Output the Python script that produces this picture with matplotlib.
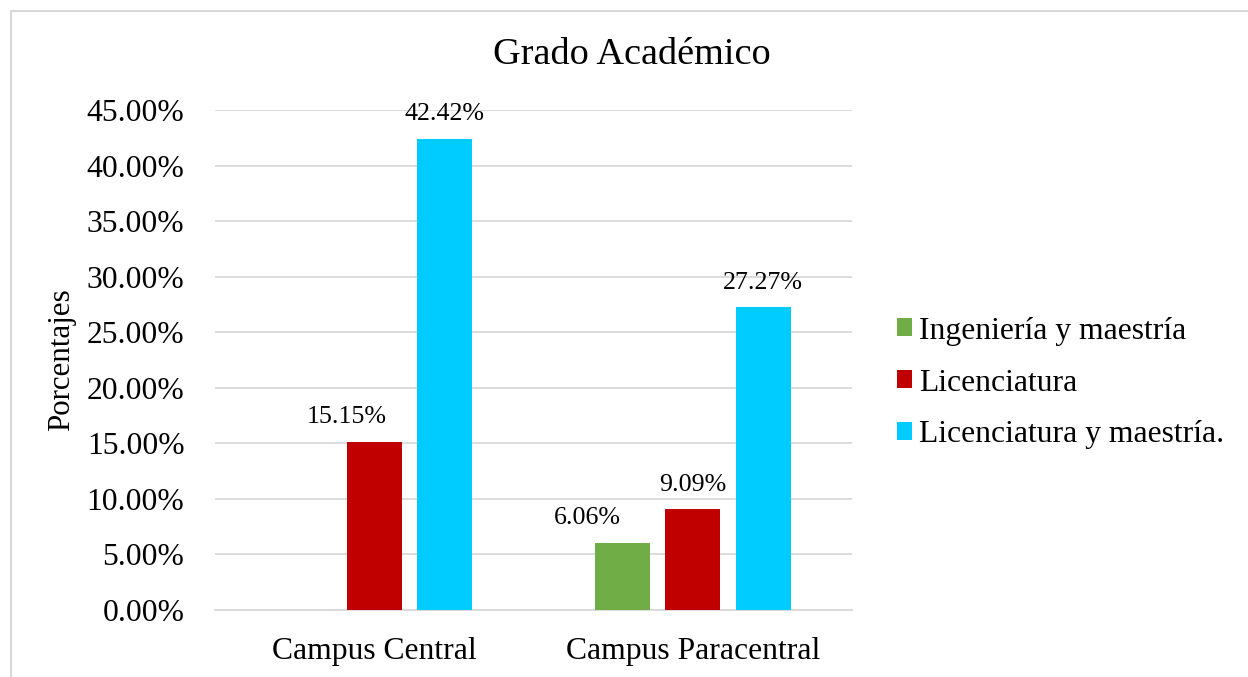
import matplotlib.pyplot as plt
import numpy as np
from matplotlib.patches import Rectangle

plt.rcParams['font.family'] = ['Liberation Serif', 'DejaVu Serif']

campus = ['Campus Central', 'Campus Paracentral']
series = ['Ingeniería y maestría', 'Licenciatura', 'Licenciatura y maestría.']
ingenieria = [0.0, 6.06]
licenciatura = [15.15, 9.09]
lic_maestria = [42.42, 27.27]
colors = ['#70AD47', '#C00000', '#00CCFF']
yticks = np.arange(0, 46, 5)

# some labels were pushed sideways in the original (series, campus) -> px
nudge = {(1, 0): -28, (0, 1): -35}

fig = plt.figure(figsize=(12.48, 6.77), dpi=100)
ax = fig.add_axes([215 / 1248, 67 / 677, 637 / 1248, 500 / 677])

x = np.arange(len(campus))
w = 0.173
step = 0.221
for i, (vals, c, name) in enumerate(zip([ingenieria, licenciatura, lic_maestria], colors, series)):
    bars = ax.bar(x + (i - 1) * step, vals, w, color=c, label=name, zorder=3)
    for j, (b, v) in enumerate(zip(bars, vals)):
        if v > 0:
            dx = nudge.get((i, j), 0) * 0.72
            ax.annotate(f'{v:.2f}%', (b.get_x() + b.get_width() / 2, v),
                        xytext=(dx, 9.5), textcoords='offset points',
                        ha='center', va='bottom', fontsize=18.7)

ax.set_xlim(-0.5, 1.5)
ax.set_ylim(0, 45)
ax.set_yticks(yticks)
ax.set_yticklabels([f'{t:.2f}%' for t in yticks], fontsize=22.8)
ax.set_xticks(x)
ax.set_xticklabels(campus, fontsize=22.8)
ax.tick_params(axis='both', length=0)
ax.tick_params(axis='y', pad=22)
ax.tick_params(axis='x', pad=19.5)
ax.grid(axis='y', color='#D9D9D9', linewidth=1.3, zorder=0)
for s in ['top', 'right', 'left']:
    ax.spines[s].set_visible(False)
ax.spines['bottom'].set_color('#D9D9D9')
ax.spines['bottom'].set_linewidth(1.3)

ax.set_ylabel('Porcentajes', fontsize=22.3)
ax.yaxis.set_label_coords(-0.218, 0.5)

fig.text(632 / 1248, 1 - 55 / 677, 'Grado Académico', ha='center', va='center', fontsize=27.5)

ax.legend(loc='center left', bbox_to_anchor=(868 / 1248, 1 - 383 / 677),
          bbox_transform=fig.transFigure, frameon=False, fontsize=22.8,
          handlelength=0.5, handleheight=0.5, handletextpad=0.22, labelspacing=0.72)

fig.patches.append(Rectangle((11 / 1248, -0.1), 1.2, 1.1 - 11 / 677,
                             transform=fig.transFigure, fill=False,
                             edgecolor='#D9D9D9', linewidth=1.5))

fig.savefig('out.png', dpi=100)
